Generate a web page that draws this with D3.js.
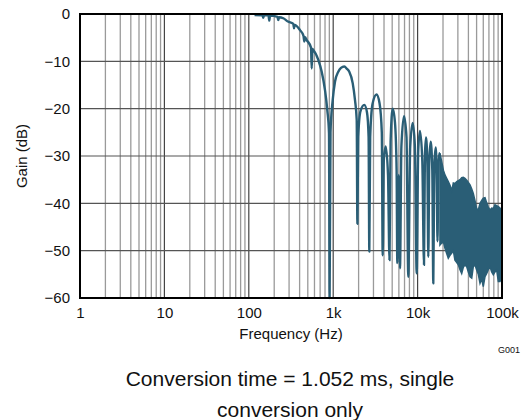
<!DOCTYPE html>
<html>
<head>
<meta charset="utf-8">
<script src="https://cdn.jsdelivr.net/npm/d3@7"></script>
<style>
  body { margin: 0; background: #fff; }
  text { font-family: "Liberation Sans", Arial, sans-serif; fill: #111; }
</style>
</head>
<body>
<svg id="chart" width="522" height="420"></svg>
<script>
// gain response (Hz, dB)
const lineFreq = [117, 145, 148.5, 151.4, 171.2, 175, 178.3, 218.8, 223.6, 228, 256.3, 291.4, 336.8, 343.3, 349.9,
    404.3, 444.7, 454.5, 463.4, 485.4, 545.8, 556.3, 567.1, 581.2, 666, 730.7, 799.5, 851.3, 891.8, 906.5, 929.1,
    986.5, 1050, 1149, 1237, 1353, 1457, 1551, 1702, 1813, 1899, 1935, 1978, 2106, 2336, 2515, 2627, 2678, 2744,
    2922, 3259, 3537, 3766, 3859, 3977, 4189, 4460, 4646, 4788, 5070, 5399, 5640, 5748, 5972, 6186, 6427, 6902,
    7388, 7760, 8175, 8749, 9291, 9757, 10165, 10677, 11369, 11908, 12204, 12575, 13064, 13389, 13759, 14294,
    14932, 15346, 15770, 16384, 16884, 17210, 17590, 18077, 18430];
const lineGain = [-0.2, -0.25, -0.8, -0.3, -0.3, -1.4, -0.35, -0.6, -1.3, -0.7, -0.9, -1.6, -2.1, -3.0, -2.3,
    -3.4, -4.6, -5.8, -4.9, -5.5, -7.1, -11.5, -7.4, -7.6, -9.7, -12.2, -16.1, -20.3, -25.2, -60, -25,
    -18.2, -14.3, -12.2, -11.4, -11.1, -11.6, -12.2, -14.6, -18.2, -22.4, -44.3, -26, -20.5, -19.2, -20.8, -26, -50.2, -26,
    -19, -17, -18.8, -25, -51, -31, -28, -34, -52, -27, -20, -23, -33, -52.6, -34, -53.7, -28, -21.6,
    -26, -55.5, -28, -23, -28, -54.8, -29, -24.7, -31, -53, -30, -26.1, -32, -51.3, -31, -27,
    -33, -56.9, -32, -28.2, -35, -48, -33, -29.4, -31];

// dense part above ~18 kHz: upper and lower edge of the band
const bandFreq = [18400, 19300, 20200, 21100, 22100, 23100, 24200, 25400, 26500, 27700, 29100, 30400, 31800,
    33300, 34800, 36400, 38200, 39900, 41800, 43800, 45700, 47900, 50100, 52400, 54900, 57500, 60000, 62900,
    65900, 68800, 72100, 75500, 78900, 82600, 86500, 90400, 94700, 100000];
const bandHigh = [-29.4, -31.2, -33, -34, -34.7, -35.4, -36.2, -37.3, -35.7, -35.8, -35.4, -35.2, -35,
    -34.6, -34.5, -34.7, -35.1, -35.6, -36.1, -37, -37.9, -39.5, -41.1, -41.4, -40, -39.4, -38.9, -38.8,
    -39.9, -40.8, -41.4, -41, -41.1, -40.3, -40.5, -40.7, -41, -41.5];
const bandLow = [-48.8, -48.4, -48.1, -49.5, -50.6, -51.6, -51, -50.5, -50, -52, -52.5, -53, -54,
    -54.8, -53.5, -53, -53.4, -54.5, -55.5, -55.8, -53.4, -53, -54.1, -55, -56.9, -56, -57.6, -55.5,
    -54.8, -54, -53.4, -54.5, -55.1, -54.5, -54.1, -56.5, -56.5, -55.5];

const xTicks = [1, 10, 100, 1000, 10000, 100000];
const xTickLabels = ["1", "10", "100", "1k", "10k", "100k"];
const yTicks = [0, -10, -20, -30, -40, -50, -60];

const margin = { left: 80, top: 14, right: 20, bottom: 122 };
const width = 522, height = 420;
const plotW = width - margin.left - margin.right;
const plotH = height - margin.top - margin.bottom;
const lineColor = "#2a5e76";
const font = "'Liberation Sans', Arial, sans-serif";

const svg = d3.select("#chart");
const g = svg.append("g").attr("transform", `translate(${margin.left},${margin.top})`);

const x = d3.scaleLog().domain([1, 100000]).range([0, plotW]);
const y = d3.scaleLinear().domain([-60, 0]).range([plotH, 0]);

// minor vertical grid (2..9 of each decade)
const minor = x.ticks().filter(t => !xTicks.includes(t));
g.append("g").selectAll("line").data(minor).enter().append("line")
    .attr("x1", d => x(d)).attr("x2", d => x(d))
    .attr("y1", 0).attr("y2", plotH)
    .attr("stroke", "#9a9a9a").attr("stroke-width", 1.3);

g.append("g").selectAll("line").data(xTicks).enter().append("line")
    .attr("x1", d => x(d)).attr("x2", d => x(d))
    .attr("y1", 0).attr("y2", plotH)
    .attr("stroke", "#444").attr("stroke-width", 1.2);

g.append("g").selectAll("line").data(yTicks).enter().append("line")
    .attr("x1", 0).attr("x2", plotW)
    .attr("y1", d => y(d)).attr("y2", d => y(d))
    .attr("stroke", "#555").attr("stroke-width", 1.2);

// data
const pts = lineFreq.map((f, i) => [f, lineGain[i]]);
const band = bandFreq.map((f, i) => [f, bandHigh[i], bandLow[i]]);

g.append("path")
    .datum(band)
    .attr("d", d3.area().x(d => x(d[0])).y0(d => y(d[2])).y1(d => y(d[1])))
    .attr("fill", lineColor)
    .attr("stroke", lineColor)
    .attr("stroke-width", 1.5);

g.append("path")
    .datum(pts)
    .attr("d", d3.line().x(d => x(d[0])).y(d => y(d[1])).curve(d3.curveMonotoneX))
    .attr("fill", "none")
    .attr("stroke", lineColor)
    .attr("stroke-width", 2.4)
    .attr("stroke-linejoin", "round");

// frame
g.append("rect")
    .attr("width", plotW).attr("height", plotH)
    .attr("fill", "none").attr("stroke", "#000").attr("stroke-width", 2);

// axes (labels only)
const xAxis = d3.axisBottom(x).tickValues(xTicks).tickFormat((d, i) => xTickLabels[i]).tickSize(0).tickPadding(9);
g.append("g").attr("transform", `translate(0,${plotH})`).call(xAxis)
    .call(a => a.select(".domain").remove())
    .selectAll("text").style("font-size", "15px").attr("fill", "#111")
    .style("font-family", font);

const yAxis = d3.axisLeft(y).tickValues(yTicks).tickFormat(d => d === 0 ? "0" : "\u2212" + Math.abs(d)).tickSize(0).tickPadding(10);
g.append("g").call(yAxis)
    .call(a => a.select(".domain").remove())
    .selectAll("text").style("font-size", "15px").attr("fill", "#111")
    .style("font-family", font);

svg.append("text")
    .attr("x", margin.left + plotW / 2).attr("y", 339)
    .attr("text-anchor", "middle").style("font-size", "15px")
    .text("Frequency (Hz)");

svg.append("text")
    .attr("transform", `translate(27,${margin.top + plotH / 2}) rotate(-90)`)
    .attr("text-anchor", "middle").style("font-size", "15px")
    .text("Gain (dB)");

svg.append("text")
    .attr("x", 520).attr("y", 353)
    .attr("text-anchor", "end").style("font-size", "9px")
    .text("G001");

svg.append("text")
    .attr("x", 290).attr("y", 386)
    .attr("text-anchor", "middle").style("font-size", "21px")
    .text("Conversion time = 1.052 ms, single");

svg.append("text")
    .attr("x", 290).attr("y", 417)
    .attr("text-anchor", "middle").style("font-size", "21px")
    .text("conversion only");
</script>
</body>
</html>
